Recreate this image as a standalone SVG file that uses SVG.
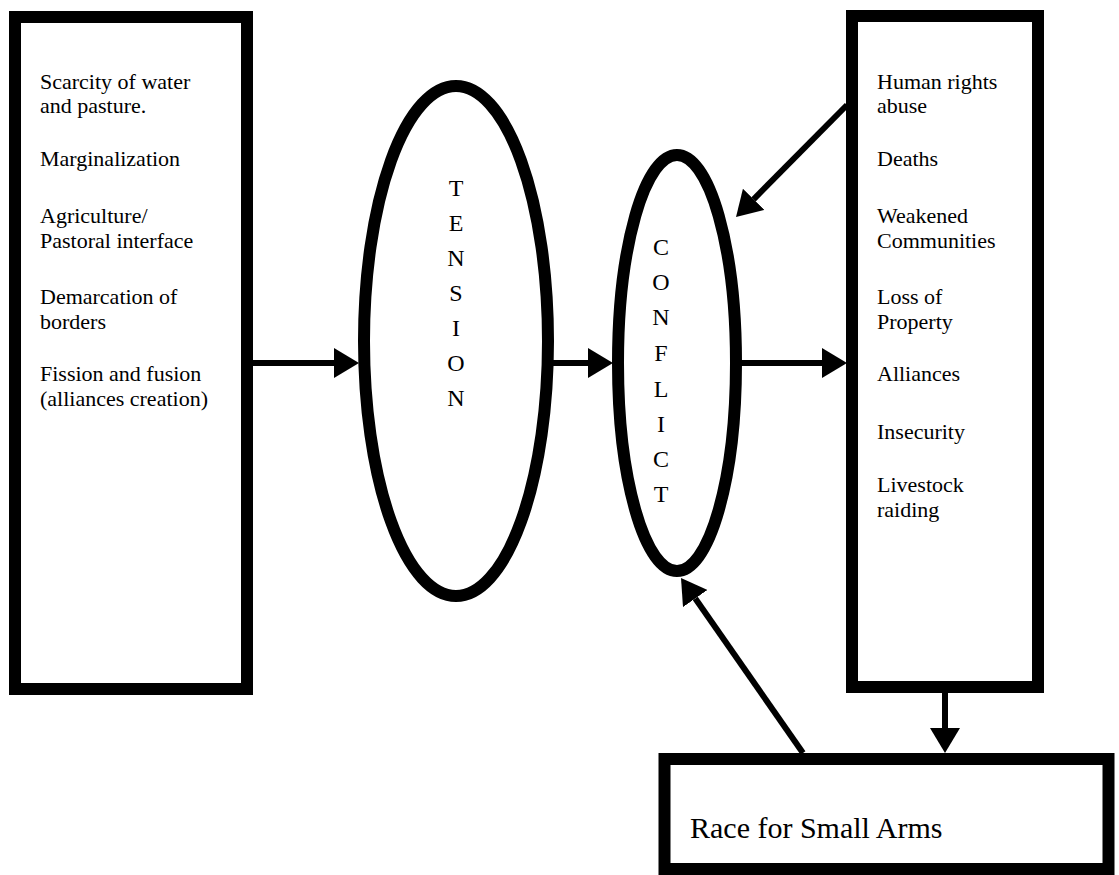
<svg xmlns="http://www.w3.org/2000/svg" width="1119" height="875" viewBox="0 0 1119 875">
<style>
.box{fill:#fff;stroke:#000;stroke-width:12}
.ell{fill:none;stroke:#000;stroke-width:12}
.t{font-size:22px;fill:#000}
.v{font-size:24px;fill:#000;text-anchor:middle}
.big{font-size:30px;fill:#000}
.c{stroke:#000;stroke-width:6;fill:none;marker-end:url(#ah)}
</style>
<defs>
<marker id="ah" viewBox="0 0 25 30" refX="0" refY="15" markerWidth="25" markerHeight="30" orient="auto" markerUnits="userSpaceOnUse">
<path d="M0,0 L25,15 L0,30 Z" fill="#000"/>
</marker>
</defs>
<rect width="1119" height="875" fill="#fff"/>
<g font-family="Liberation Serif, Times New Roman, DejaVu Serif, serif">
<g id="causes">
<rect class="box" x="15" y="17" width="232" height="672"/>
<text class="t" x="40" y="89">Scarcity of water</text>
<text class="t" x="40" y="113">and pasture.</text>
<text class="t" x="40" y="166">Marginalization</text>
<text class="t" x="40" y="223">Agriculture/</text>
<text class="t" x="40" y="248">Pastoral interface</text>
<text class="t" x="40" y="304">Demarcation of</text>
<text class="t" x="40" y="329">borders</text>
<text class="t" x="40" y="381">Fission and fusion</text>
<text class="t" x="40" y="406">(alliances creation)</text>
</g>
<g id="tension">
<ellipse class="ell" cx="456" cy="341" rx="92" ry="255"/>
<text class="v" x="456" y="196">T</text>
<text class="v" x="456" y="231">E</text>
<text class="v" x="456" y="266">N</text>
<text class="v" x="456" y="301">S</text>
<text class="v" x="456" y="336">I</text>
<text class="v" x="456" y="371">O</text>
<text class="v" x="456" y="406">N</text>
</g>
<g id="conflict">
<ellipse class="ell" cx="677" cy="363" rx="59" ry="208"/>
<text class="v" x="661" y="255">C</text>
<text class="v" x="661" y="290">O</text>
<text class="v" x="661" y="325">N</text>
<text class="v" x="661" y="361">F</text>
<text class="v" x="661" y="397">L</text>
<text class="v" x="661" y="432">I</text>
<text class="v" x="661" y="467">C</text>
<text class="v" x="661" y="502">T</text>
</g>
<g id="effects">
<rect class="box" x="852" y="16" width="186" height="671"/>
<text class="t" x="877" y="89">Human rights</text>
<text class="t" x="877" y="113">abuse</text>
<text class="t" x="877" y="166">Deaths</text>
<text class="t" x="877" y="223">Weakened</text>
<text class="t" x="877" y="248">Communities</text>
<text class="t" x="877" y="304">Loss of</text>
<text class="t" x="877" y="329">Property</text>
<text class="t" x="877" y="381">Alliances</text>
<text class="t" x="877" y="439">Insecurity</text>
<text class="t" x="877" y="492">Livestock</text>
<text class="t" x="877" y="517">raiding</text>
</g>
<g id="arms">
<rect class="box" x="664.5" y="759" width="444" height="110"/>
<text class="big" x="690" y="838">Race for Small Arms</text>
</g>
</g>
<g id="connectors">
<line class="c" x1="252" y1="363" x2="334" y2="363"/>
<line class="c" x1="550" y1="363" x2="588" y2="363"/>
<line class="c" x1="740" y1="363" x2="822" y2="363"/>
<line class="c" x1="847" y1="105" x2="753.6" y2="199.3"/>
<line class="c" x1="803" y1="753" x2="695.3" y2="598.5"/>
<line class="c" x1="945" y1="693" x2="945" y2="728"/>
</g>
</svg>
